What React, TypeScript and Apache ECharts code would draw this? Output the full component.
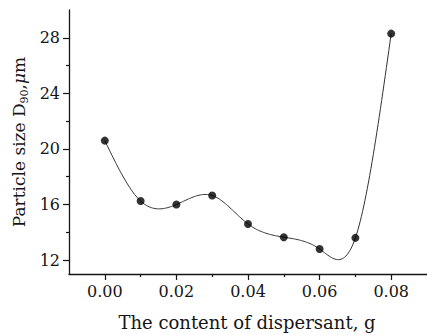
import React, { useEffect, useRef } from "react";
import * as echarts from "echarts";

const dispersant = [0.0, 0.01, 0.02, 0.03, 0.04, 0.05, 0.06, 0.07, 0.08];
const d90 = [20.6, 16.25, 16.0, 16.65, 14.6, 13.65, 12.8, 13.6, 28.3];
const xMajorTicks = [0.0, 0.02, 0.04, 0.06, 0.08];
const xMinorTicks = [0.01, 0.03, 0.05, 0.07];
const yMajorTicks = [12, 16, 20, 24, 28];
const yMinorTicks = [14, 18, 22, 26];

const FONT = "DejaVu Serif";
const INK = "#151515";

// natural cubic spline second derivatives
function splineM(xs: number[], ys: number[]): number[] {
  const n = xs.length;
  const h: number[] = [];
  for (let i = 0; i < n - 1; i++) h.push(xs[i + 1] - xs[i]);
  const a: number[] = new Array(n).fill(0);
  const b: number[] = new Array(n).fill(1);
  const c: number[] = new Array(n).fill(0);
  const d: number[] = new Array(n).fill(0);
  for (let i = 1; i < n - 1; i++) {
    a[i] = h[i - 1];
    b[i] = 2 * (h[i - 1] + h[i]);
    c[i] = h[i];
    d[i] = 6 * ((ys[i + 1] - ys[i]) / h[i] - (ys[i] - ys[i - 1]) / h[i - 1]);
  }
  // Thomas algorithm
  const cp = new Array(n).fill(0);
  const dp = new Array(n).fill(0);
  cp[0] = c[0] / b[0];
  dp[0] = d[0] / b[0];
  for (let i = 1; i < n; i++) {
    const m = b[i] - a[i] * cp[i - 1];
    cp[i] = c[i] / m;
    dp[i] = (d[i] - a[i] * dp[i - 1]) / m;
  }
  const M = new Array(n).fill(0);
  M[n - 1] = dp[n - 1];
  for (let i = n - 2; i >= 0; i--) M[i] = dp[i] - cp[i] * M[i + 1];
  return M;
}

function splineAt(xs: number[], ys: number[], M: number[], i: number, t: number): number {
  const h = xs[i + 1] - xs[i];
  const A = (xs[i + 1] - t) / h;
  const B = (t - xs[i]) / h;
  return A * ys[i] + B * ys[i + 1] + ((A * A * A - A) * M[i] + (B * B * B - B) * M[i + 1]) * (h * h) / 6;
}

export default function App() {
  const ref = useRef<HTMLDivElement>(null);
  useEffect(() => {
    if (!ref.current) return;
    const chart = echarts.init(ref.current, null, { renderer: "svg" });
    const axisLine = { show: true, onZero: false, lineStyle: { color: INK, width: 1.3 } };
    const M = splineM(dispersant, d90);
    chart.setOption({
      animation: false,
      backgroundColor: "#ffffff",
      grid: { left: 69, top: 10, right: -1, bottom: 61 },
      xAxis: [
        {
          type: "value",
          min: -0.01,
          max: 0.09,
          axisLine,
          splitLine: { show: false },
          axisTick: { show: true, inside: false, length: 6, customValues: xMajorTicks, lineStyle: { color: INK, width: 1.2 } },
          axisLabel: {
            show: true,
            margin: 9,
            customValues: xMajorTicks,
            formatter: (v: number) => v.toFixed(2),
            fontFamily: FONT,
            fontSize: 16,
            color: INK,
          },
        },
        {
          type: "value",
          min: -0.01,
          max: 0.09,
          position: "bottom",
          axisLine: { show: false, onZero: false },
          splitLine: { show: false },
          axisTick: { show: true, inside: false, length: 3, customValues: xMinorTicks, lineStyle: { color: INK, width: 1.2 } },
          axisLabel: { show: false },
        },
      ],
      yAxis: [
        {
          type: "value",
          min: 11,
          max: 30,
          axisLine,
          splitLine: { show: false },
          axisTick: { show: true, inside: false, length: 6, customValues: yMajorTicks, lineStyle: { color: INK, width: 1.2 } },
          axisLabel: {
            show: true,
            margin: 9,
            customValues: yMajorTicks,
            fontFamily: FONT,
            fontSize: 16,
            color: INK,
          },
        },
        {
          type: "value",
          min: 11,
          max: 30,
          position: "left",
          axisLine: { show: false, onZero: false },
          splitLine: { show: false },
          axisTick: { show: true, inside: false, length: 3, customValues: yMinorTicks, lineStyle: { color: INK, width: 1.2 } },
          axisLabel: { show: false },
        },
      ],
      series: [
        {
          type: "custom",
          xAxisIndex: 0,
          yAxisIndex: 0,
          clip: false,
          silent: true,
          data: dispersant.map((x, i) => [x, d90[i]]),
          renderItem: (params: any, api: any) => {
            const i = params.dataIndex;
            if (i >= dispersant.length - 1) return { type: "group", children: [] };
            const pts: number[][] = [];
            const steps = 30;
            for (let k = 0; k <= steps; k++) {
              const t = dispersant[i] + ((dispersant[i + 1] - dispersant[i]) * k) / steps;
              pts.push(api.coord([t, splineAt(dispersant, d90, M, i, t)]));
            }
            return {
              type: "polyline",
              shape: { points: pts },
              style: { stroke: "#333333", lineWidth: 1, fill: "none" },
            };
          },
        },
        {
          type: "scatter",
          xAxisIndex: 0,
          yAxisIndex: 0,
          data: dispersant.map((x, i) => [x, d90[i]]),
          symbol: "circle",
          symbolSize: 8,
          itemStyle: { color: "#000000" },
        },
      ],
      graphic: [
        {
          type: "text",
          x: 247,
          y: 322,
          style: {
            text: "The content of dispersant, g",
            fontFamily: FONT,
            fontSize: 18,
            fill: INK,
            align: "center",
            verticalAlign: "middle",
          },
        },
        {
          type: "text",
          x: 19,
          y: 142,
          rotation: Math.PI / 2,
          style: {
            text: "{a|Particle size D}{s|90}{a|,}{i|μ}{a|m}",
            fontFamily: FONT,
            fontSize: 17,
            fill: INK,
            align: "center",
            verticalAlign: "middle",
            rich: {
              a: { fontFamily: FONT, fontSize: 17, lineHeight: 21, fill: INK },
              i: { fontFamily: FONT, fontSize: 17, lineHeight: 21, fontStyle: "italic", fill: INK },
              s: { fontFamily: FONT, fontSize: 11, lineHeight: 11, verticalAlign: "bottom", fill: INK },
            },
          },
        },
      ],
    });
    return () => chart.dispose();
  }, []);
  return <div ref={ref} style={{ width: 427, height: 335, position: "fixed", left: 0, top: 0 }} />;
}
